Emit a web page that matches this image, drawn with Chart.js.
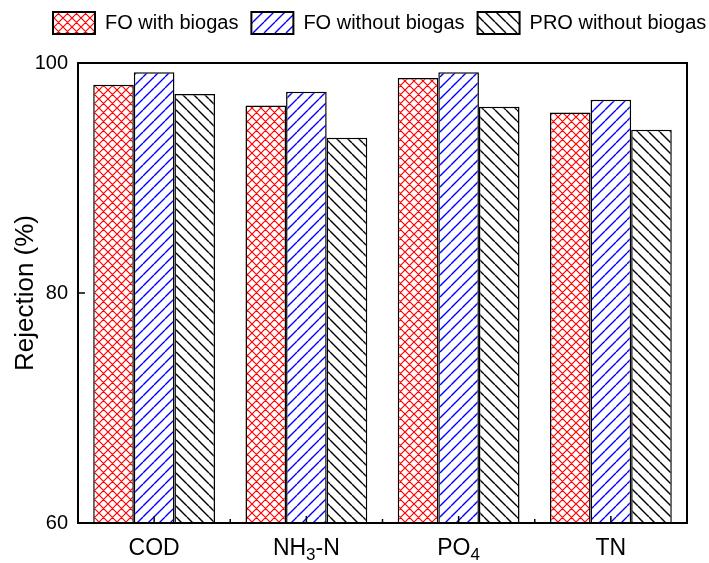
<!DOCTYPE html>
<html>
<head>
<meta charset="utf-8">
<script src="https://cdn.jsdelivr.net/npm/chart.js@4"></script>
<style>
  html, body { margin: 0; padding: 0; background: #fff; }
  canvas { display: block; }
</style>
</head>
<body>
<canvas id="chart" width="709" height="563"></canvas>
<script>
// values (digits in a category name are subscripts)
const categories = ["COD", "NH3-N", "PO4", "TN"];
const foWithBiogas     = [98.1, 96.3, 98.7, 95.7];
const foWithoutBiogas  = [99.2, 97.5, 99.2, 96.8];
const proWithoutBiogas = [97.3, 93.5, 96.2, 94.2];
const yMajorTicks = [60, 80, 100];

const FONT = "'Liberation Sans', Arial, sans-serif";
Chart.defaults.font.family = FONT;
Chart.defaults.color = "#000";

// hatch fills like the Origin patterns
function hatch(size, color, lw, dirs) {
  const c = document.createElement("canvas");
  c.width = size; c.height = size;
  const g = c.getContext("2d");
  g.fillStyle = "#fff";
  g.fillRect(0, 0, size, size);
  g.strokeStyle = color;
  g.lineWidth = lw;
  g.beginPath();
  for (let k = -1; k <= 1; k++) {
    if (dirs.includes("/"))  { g.moveTo(k * size, size); g.lineTo(k * size + size, 0); }
    if (dirs.includes("\\")) { g.moveTo(k * size, 0);    g.lineTo(k * size + size, size); }
  }
  g.stroke();
  return g.createPattern(c, "repeat");
}

// -------------------
// frame, inner ticks, category labels with subscripts, legend placement
// -------------------
const frameAndTicks = {
  id: "frameAndTicks",
  beforeLayout(chart) {
    const lg = chart.legend;
    if (lg && !lg._patched) {
      const fit = lg.fit;
      lg.fit = function () { fit.call(this); this.height = 63; };
      lg._patched = true;
    }
  },
  afterLayout(chart) {
    const lg = chart.legend;
    lg.left = 40;
    lg.right = 800;
    lg.top = -1;
  },
  afterDatasetsDraw(chart) {
    const { ctx, chartArea: a, scales: { x, y } } = chart;
    ctx.save();
    ctx.strokeStyle = "#000";
    ctx.lineWidth = 2;
    ctx.strokeRect(a.left, a.top, a.right - a.left, a.bottom - a.top);
    ctx.lineWidth = 1.5;
    ctx.beginPath();
    yMajorTicks.forEach(v => {
      const py = y.getPixelForValue(v);
      ctx.moveTo(a.left, py);
      ctx.lineTo(a.left + 7, py);
    });
    categories.forEach((c, i) => {
      const px = x.getPixelForValue(i);
      ctx.moveTo(px, a.bottom);
      ctx.lineTo(px, a.bottom - 7);
      if (i < categories.length - 1) {
        const mx = (px + x.getPixelForValue(i + 1)) / 2;
        ctx.moveTo(mx, a.bottom);
        ctx.lineTo(mx, a.bottom - 4);
      }
    });
    ctx.stroke();

    // category labels
    ctx.fillStyle = "#000";
    ctx.textBaseline = "alphabetic";
    ctx.textAlign = "left";
    categories.forEach((c, i) => {
      const runs = c.match(/\d+|\D+/g).map(t => ({ t, sub: /\d/.test(t) }));
      let total = 0;
      runs.forEach(r => {
        ctx.font = (r.sub ? "17px " : "23px ") + FONT;
        r.w = ctx.measureText(r.t).width;
        total += r.w;
      });
      let cx = x.getPixelForValue(i) - total / 2;
      runs.forEach(r => {
        ctx.font = (r.sub ? "17px " : "23px ") + FONT;
        ctx.fillText(r.t, cx, r.sub ? a.bottom + 37 : a.bottom + 32);
        cx += r.w;
      });
    });
    ctx.restore();
  }
};

const common = { borderColor: "#000", borderWidth: 1.5, borderSkipped: "start",
                 categoryPercentage: 0.8, barPercentage: 1 };

new Chart(document.getElementById("chart"), {
  type: "bar",
  data: {
    labels: categories,
    datasets: [
      { label: "FO with biogas",     data: foWithBiogas,     backgroundColor: hatch(9, "#ff0000", 1.2, "/\\"), ...common },
      { label: "FO without biogas",  data: foWithoutBiogas,  backgroundColor: hatch(11, "#0000ff", 1.4, "/"),  ...common },
      { label: "PRO without biogas", data: proWithoutBiogas, backgroundColor: hatch(11, "#000000", 1.4, "\\"), ...common }
    ]
  },
  options: {
    responsive: false,
    animation: false,
    layout: { padding: { left: 0, right: 22, top: 0, bottom: 0 } },
    plugins: {
      tooltip: { enabled: false },
      legend: {
        position: "top",
        align: "start",
        labels: {
          boxWidth: 42,
          boxHeight: 22,
          padding: 13,
          font: { size: 20 },
          generateLabels: chart =>
            Chart.defaults.plugins.legend.labels.generateLabels(chart).map(l => ({ ...l, lineWidth: 2 }))
        }
      }
    },
    scales: {
      x: {
        grid: { display: false, drawTicks: false },
        border: { display: false },
        ticks: { display: false },
        afterFit: s => { s.height = 40; }
      },
      y: {
        min: 60,
        max: 100,
        grid: { display: false, drawTicks: false },
        border: { display: false },
        ticks: { stepSize: 20, font: { size: 20 }, padding: 10 },
        title: { display: true, text: "Rejection (%)", font: { size: 26 }, padding: { top: 10 } },
        afterFit: s => { s.width = 78; }
      }
    }
  },
  plugins: [frameAndTicks]
});
</script>
</body>
</html>
